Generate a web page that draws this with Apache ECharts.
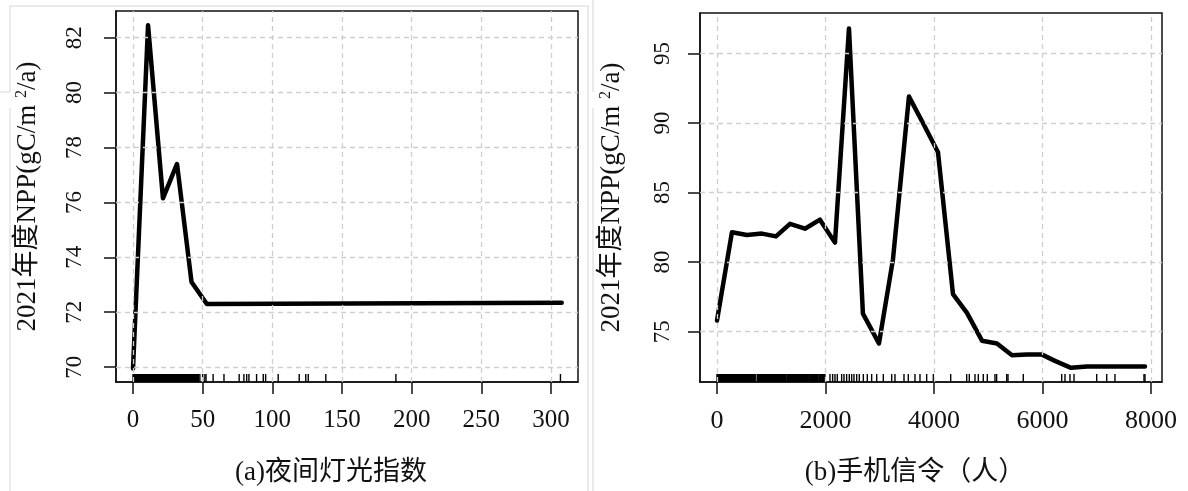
<!DOCTYPE html>
<html lang="zh">
<head>
  <meta charset="UTF-8">
  <title>NPP</title>
  <style>
    html, body { margin: 0; padding: 0; background: #fff; }
  </style>
</head>
<body>
  <div id="main" style="width: 1188px;height: 491px;"></div>
  <script src="https://cdn.jsdelivr.net/npm/echarts@6/dist/echarts.min.js"></script>
  <script>
    // (a) 夜间灯光指数
    var xA = [0, 10.8, 21.5, 31.6, 42, 53, 307.7];
    var yA = [69.95, 82.45, 76.15, 77.4, 73.1, 72.3, 72.35];
    var rugBandA = [[0, 47]];
    var rugTickA = [48, 50, 51.6, 52.4, 57.5, 65.3, 76.2, 79.6, 81.6, 83.2, 88.7, 93.5, 95.2,
      104.2, 119.3, 124, 125.8, 138.4, 188.7, 306.8];
    var xTicksA = [0, 50, 100, 150, 200, 250, 300];
    var yTicksA = [70, 72, 74, 76, 78, 80, 82];

    // (b) 手机信令
    var xB = [0, 276, 553, 829, 1087, 1346, 1622, 1898, 2175, 2433, 2690, 2986, 3244, 3539,
      3797, 4074, 4350, 4608, 4885, 5161, 5438, 5714, 5991, 6230, 6525, 6820, 7889];
    var yB = [75.8, 82.15, 81.95, 82.05, 81.85, 82.75, 82.4, 83.05, 81.4, 96.8, 76.3, 74.15,
      80.2, 91.9, 90.0, 87.9, 77.7, 76.35, 74.35, 74.15, 73.3, 73.35, 73.35, 72.9, 72.4, 72.5, 72.5];
    var rugBandB = [[0, 705], [740, 1025], [1045, 1270], [1290, 1500], [1520, 1700],
      [1720, 1860], [1880, 1990]];
    var rugTickB = [2083, 2132, 2175, 2218, 2298, 2341, 2390, 2439, 2483, 2525, 2575, 2623,
      2698, 2771, 2851, 2944, 3066, 3220, 3281, 3447, 3527, 3650, 3742, 3865, 3988, 4308,
      4603, 4651, 4756, 4817, 4909, 4983, 5124, 5155, 5340, 5364, 5646, 6354, 6415, 6507,
      6581, 6999, 7184, 7336, 7871, 7889];
    var xTicksB = [0, 2000, 4000, 6000, 8000];
    var yTicksB = [75, 80, 85, 90, 95];

    var yNameText = '2021年度NPP(gC/m {sup|2}/a)';
    var serif = '"Liberation Serif", "Noto Sans CJK SC", serif';

    var chart = echarts.init(document.getElementById('main'));

    function pairs(xs, ys) {
      return xs.map(function (x, i) { return [x, ys[i]]; });
    }

    function rugData(bands, ticks) {
      return bands.concat(ticks.map(function (t) { return [t, t]; }));
    }

    function gridLines(xs, ys) {
      return xs.map(function (v) { return { xAxis: v }; })
        .concat(ys.map(function (v) { return { yAxis: v }; }));
    }

    function xAxisOf(idx, min, max, ticks, name, nameShift, fs) {
      return {
        gridIndex: idx, type: 'value', min: min, max: max,
        axisLine: { show: true, onZero: false, lineStyle: { color: '#111', width: 1.5 } },
        axisTick: { show: true, customValues: ticks, length: 12, lineStyle: { color: '#111', width: 1.5 } },
        axisLabel: {
          customValues: ticks, color: '#111', fontSize: fs, fontFamily: serif, margin: 26,
          formatter: function (v) { return String(v); }
        },
        splitLine: { show: false },
        name: name, nameLocation: 'middle', nameGap: 77,
        nameTextStyle: { color: '#111', fontSize: 27, fontFamily: serif, padding: [0, nameShift, 0, 0] }
      };
    }

    function yAxisOf(idx, min, max, ticks, margin) {
      return {
        gridIndex: idx, type: 'value', min: min, max: max,
        axisLine: { show: true, onZero: false, lineStyle: { color: '#111', width: 1.5 } },
        axisTick: { show: true, customValues: ticks, length: 12, lineStyle: { color: '#111', width: 1.5 } },
        axisLabel: { customValues: ticks, rotate: 90, color: '#111', fontSize: 23, fontFamily: serif, margin: margin },
        splitLine: { show: false },
        name: yNameText, nameLocation: 'middle', nameRotate: 90, nameGap: 75,
        nameTextStyle: {
          color: '#111', fontSize: 27, fontFamily: serif,
          rich: { sup: { color: '#111', fontSize: 16, fontFamily: serif, verticalAlign: 'top', padding: [0, 0, 10, 0] } }
        }
      };
    }

    // rug: each item is a span [start, end] drawn as a solid strip along the bottom
    function rugRender(yMin) {
      return function (params, api) {
        var a = api.coord([api.value('start'), yMin]);
        var b = api.coord([api.value('end'), yMin]);
        var x0 = a[0] - 0.7;
        var w = Math.max(b[0] - a[0], 0) + 1.4;
        return {
          type: 'rect',
          shape: { x: x0, y: a[1] - 8, width: w, height: 8 },
          style: { fill: '#000' }
        };
      };
    }

    var markLineStyle = { type: [5, 4], color: '#cfcfcf', width: 1.3 };

    chart.setOption({
      backgroundColor: '#fff',
      animation: false,
      grid: [
        { left: 116, top: 11, width: 462, height: 375, show: true, borderColor: '#111', borderWidth: 1.5, backgroundColor: 'transparent' },
        { left: 700, top: 13, width: 462, height: 374, show: true, borderColor: '#111', borderWidth: 1.5, backgroundColor: 'transparent' }
      ],
      xAxis: [
        xAxisOf(0, -12.2, 319.4, xTicksA, '(a)夜间灯光指数', 32, 25),
        xAxisOf(1, -313, 8203, xTicksB, '(b)手机信令（人）', 32, 26)
      ],
      yAxis: [
        yAxisOf(0, 69.46, 82.97, yTicksA, 30),
        yAxisOf(1, 71.38, 97.91, yTicksB, 26)
      ],
      graphic: [
        { type: 'line', shape: { x1: 10, y1: 6, x2: 588, y2: 6 }, style: { stroke: '#d6d6d6', lineWidth: 1 } },
        { type: 'line', shape: { x1: 10, y1: 6, x2: 10, y2: 92 }, style: { stroke: '#d6d6d6', lineWidth: 1 } },
        { type: 'line', shape: { x1: 0, y1: 92, x2: 10, y2: 92 }, style: { stroke: '#d6d6d6', lineWidth: 1 } },
        { type: 'line', shape: { x1: 10, y1: 108, x2: 10, y2: 491 }, style: { stroke: '#d6d6d6', lineWidth: 1 } },
        { type: 'line', shape: { x1: 588, y1: 6, x2: 588, y2: 491 }, style: { stroke: '#d6d6d6', lineWidth: 1 } },
        { type: 'line', shape: { x1: 593, y1: 0, x2: 593, y2: 92 }, style: { stroke: '#d6d6d6', lineWidth: 1 } },
        { type: 'line', shape: { x1: 593, y1: 108, x2: 593, y2: 491 }, style: { stroke: '#d6d6d6', lineWidth: 1 } }
      ],
      series: [
        {
          type: 'line', xAxisIndex: 0, yAxisIndex: 0, data: pairs(xA, yA),
          showSymbol: false, symbol: 'none',
          lineStyle: { color: '#000', width: 4.5, join: 'round', cap: 'round' },
          markLine: { silent: true, symbol: 'none', label: { show: false }, lineStyle: markLineStyle, data: gridLines(xTicksA, yTicksA) }
        },
        {
          type: 'custom', xAxisIndex: 0, yAxisIndex: 0, data: rugData(rugBandA, rugTickA),
          dimensions: ['start', 'end'], encode: { x: ['start', 'end'] },
          renderItem: rugRender(69.46), clip: false, silent: true
        },
        {
          type: 'line', xAxisIndex: 1, yAxisIndex: 1, data: pairs(xB, yB),
          showSymbol: false, symbol: 'none',
          lineStyle: { color: '#000', width: 4.5, join: 'round', cap: 'round' },
          markLine: { silent: true, symbol: 'none', label: { show: false }, lineStyle: markLineStyle, data: gridLines(xTicksB, yTicksB) }
        },
        {
          type: 'custom', xAxisIndex: 1, yAxisIndex: 1, data: rugData(rugBandB, rugTickB),
          dimensions: ['start', 'end'], encode: { x: ['start', 'end'] },
          renderItem: rugRender(71.38), clip: false, silent: true
        }
      ]
    });
  </script>
</body>
</html>
